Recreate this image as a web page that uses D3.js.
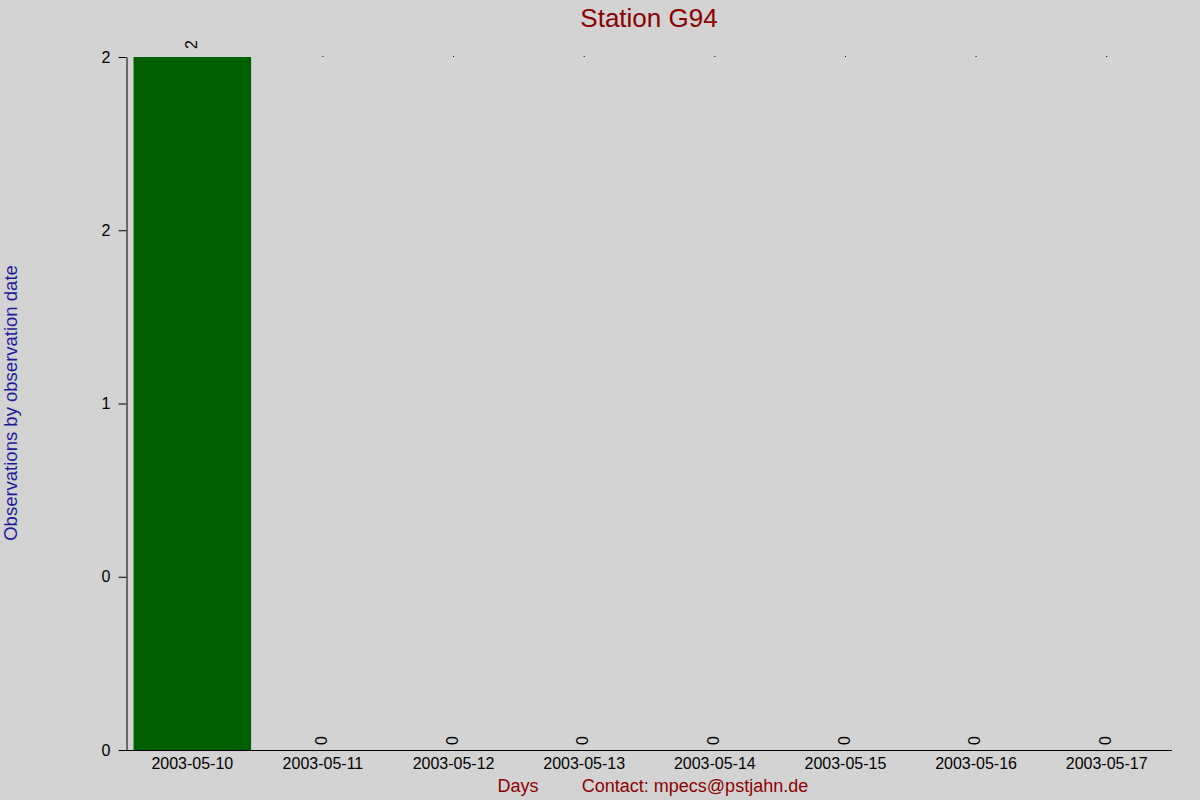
<!DOCTYPE html>
<html>
<head>
<meta charset="utf-8">
<script src="https://cdn.jsdelivr.net/npm/d3@7"></script>
<style>
  body { margin: 0; background: #d3d3d3; }
  text { font-family: "Liberation Sans", Arial, sans-serif; }
</style>
</head>
<body>
<div id="chart"></div>
<script>
// data
var days = ["2003-05-10", "2003-05-11", "2003-05-12", "2003-05-13",
            "2003-05-14", "2003-05-15", "2003-05-16", "2003-05-17"];
var counts = [2, 0, 0, 0, 0, 0, 0, 0];
var yTickValues = [0, 0.5, 1, 1.5, 2];
var yTickLabels = ["0", "0", "1", "2", "2"];

var width = 1200, height = 800;
var margin = {top: 57, right: 28, bottom: 50, left: 127};

var svg = d3.select("#chart").append("svg")
    .attr("width", width)
    .attr("height", height)
    .style("background", "#d3d3d3");

var x = d3.scaleBand()
    .domain(days)
    .range([margin.left, width - margin.right])
    .paddingInner(0.1)
    .paddingOuter(0.05);

var y = d3.scaleLinear()
    .domain([0, 2])
    .range([height - margin.bottom, margin.top]);

// title
svg.append("text")
    .attr("x", 649)
    .attr("y", 27)
    .attr("text-anchor", "middle")
    .attr("font-size", "26px")
    .attr("fill", "#8b0000")
    .text("Station G94");

// bars
svg.selectAll("rect.bar")
    .data(counts)
    .enter()
    .append("rect")
    .attr("class", "bar")
    .attr("x", (d, i) => x(days[i]))
    .attr("y", d => y(d))
    .attr("width", x.bandwidth())
    .attr("height", d => y(0) - y(d))
    .attr("fill", "#006000");

// little dots on top for empty days
svg.selectAll("rect.dot")
    .data(counts.map((d, i) => ({v: d, day: days[i]})).filter(d => d.v === 0))
    .enter()
    .append("rect")
    .attr("class", "dot")
    .attr("x", d => x(d.day) + x.bandwidth() / 2 - 0.5)
    .attr("y", y(2) - 1)
    .attr("width", 1)
    .attr("height", 1)
    .attr("fill", "black");

// value labels (rotated)
svg.selectAll("text.val")
    .data(counts)
    .enter()
    .append("text")
    .attr("class", "val")
    .attr("transform", (d, i) => {
        var cx = x(days[i]) + x.bandwidth() / 2;
        var cy = y(d) - (d > 0 ? 8 : 5);
        return `translate(${cx},${cy}) rotate(-90)`;
    })
    .attr("dominant-baseline", "middle")
    .attr("font-size", "16px")
    .attr("fill", "black")
    .text(d => d);

// y axis
var yAxis = d3.axisLeft(y)
    .tickValues(yTickValues)
    .tickFormat((d, i) => yTickLabels[i])
    .tickSizeInner(8)
    .tickSizeOuter(0)
    .tickPadding(8);

var gy = svg.append("g")
    .attr("transform", `translate(${margin.left - 0.5},0)`)
    .call(yAxis);
gy.selectAll("text").attr("font-size", "16px").attr("fill", "black")
    .attr("font-family", "Liberation Sans, Arial, sans-serif");
gy.selectAll("line, path").attr("stroke", "black");

// x axis
var xAxis = d3.axisBottom(x).tickSize(0).tickPadding(7);
var gx = svg.append("g")
    .attr("transform", `translate(0,${y(0) + 0.5})`)
    .call(xAxis);
gx.select("path.domain").remove();
gx.append("line")
    .attr("x1", margin.left - 8)
    .attr("x2", width - margin.right)
    .attr("stroke", "black");
gx.selectAll("text").attr("font-size", "16px").attr("fill", "black")
    .attr("font-family", "Liberation Sans, Arial, sans-serif");

// axis titles
svg.append("text")
    .attr("transform", "translate(17,403) rotate(-90)")
    .attr("text-anchor", "middle")
    .attr("font-size", "18.5px")
    .attr("fill", "#1a1a9a")
    .text("Observations by observation date");

svg.append("text")
    .attr("x", 518)
    .attr("y", 792)
    .attr("text-anchor", "middle")
    .attr("font-size", "18px")
    .attr("fill", "#8b0000")
    .text("Days");

svg.append("text")
    .attr("x", 695)
    .attr("y", 792)
    .attr("text-anchor", "middle")
    .attr("font-size", "18px")
    .attr("fill", "#8b0000")
    .text("Contact: mpecs@pstjahn.de");
</script>
</body>
</html>
